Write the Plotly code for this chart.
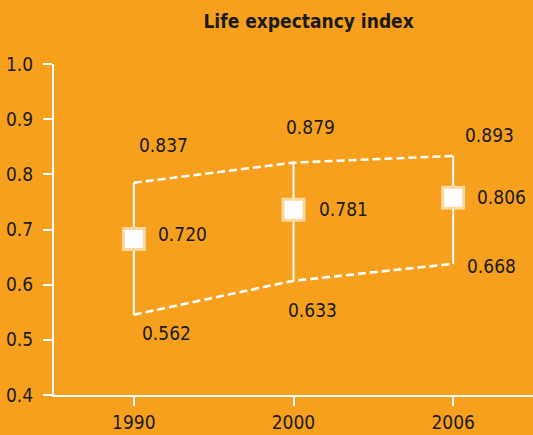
import plotly.graph_objects as go

# ---- data ----
years = ["1990", "2000", "2006"]
upper = [0.837, 0.879, 0.893]
index_value = [0.720, 0.781, 0.806]
lower = [0.562, 0.633, 0.668]
y_tick_labels = [0.4, 0.5, 0.6, 0.7, 0.8, 0.9, 1.0]

# ---- style ----
BG = "#F6A01E"
TXT = "#1A1A1A"
FONT = "DejaVu Sans Condensed, Liberation Sans Narrow, sans-serif"
NUM_SIZE = 19
# the printed axis is offset/scaled relative to the values (as in the original)
A_SCALE, A_OFF = 0.870, 0.0565
to_axis = lambda t: (t - A_OFF) / A_SCALE

xpos = list(range(len(years)))

fig = go.Figure()

# vertical range lines
vx, vy = [], []
for x, lo, hi in zip(xpos, lower, upper):
    vx += [x, x, None]
    vy += [lo, hi, None]
fig.add_trace(go.Scatter(x=vx, y=vy, mode="lines",
                         line=dict(color="white", width=2), hoverinfo="skip"))

# dashed envelope
for series in (upper, lower):
    fig.add_trace(go.Scatter(x=xpos, y=series, mode="lines",
                             line=dict(color="white", width=2.6, dash="8px,4px"),
                             hoverinfo="skip"))

# markers
fig.add_trace(go.Scatter(x=xpos, y=index_value, mode="markers",
                         marker=dict(symbol="square", size=21, color="white",
                                     line=dict(color="#FCD7A0", width=3))))

# labels (pixel offsets from each point)
up_off = [(30, 38), (17, 36), (36, 21)]
mid_off = [(49, 5), (50, 1), (48, 1)]
lo_off = [(33, -18), (19, -29), (38, -2)]
for series, offs in ((upper, up_off), (index_value, mid_off), (lower, lo_off)):
    for x, v, (dx, dy) in zip(xpos, series, offs):
        fig.add_annotation(x=x, y=v, xref="x", yref="y", text=f"{v:.3f}",
                           showarrow=False, xshift=dx, yshift=dy,
                           xanchor="center", yanchor="middle",
                           font=dict(family=FONT, size=NUM_SIZE, color=TXT))

fig.update_layout(
    width=533, height=435,
    paper_bgcolor=BG, plot_bgcolor=BG,
    margin=dict(l=54, r=0, t=64, b=40),
    showlegend=False,
    title=dict(text="<b>Life expectancy index</b>", x=0.579, y=1 - 21 / 435,
               xref="container", yref="container", xanchor="center", yanchor="middle",
               font=dict(family=FONT, size=19, color=TXT)),
    xaxis=dict(range=[-0.5, 2.5], showgrid=False, zeroline=False,
               tickvals=xpos, ticktext=years,
               showline=True, linecolor="white", linewidth=2,
               ticks="outside", ticklen=9, tickwidth=2, tickcolor="white",
               tickfont=dict(family=FONT, size=NUM_SIZE, color=TXT)),
    yaxis=dict(range=[to_axis(0.4), to_axis(1.0)], showgrid=False, zeroline=False,
               showline=True, linecolor="white", linewidth=2,
               ticks="outside", ticklen=9, tickwidth=2, tickcolor="white",
               ticklabelstandoff=6,
               tickvals=[to_axis(t) for t in y_tick_labels],
               ticktext=[f"{t:.1f}" for t in y_tick_labels],
               tickfont=dict(family=FONT, size=NUM_SIZE, color=TXT)),
)

fig.write_html("out.html", config={"displayModeBar": False},
               post_script="document.body.style.margin='0px';")
